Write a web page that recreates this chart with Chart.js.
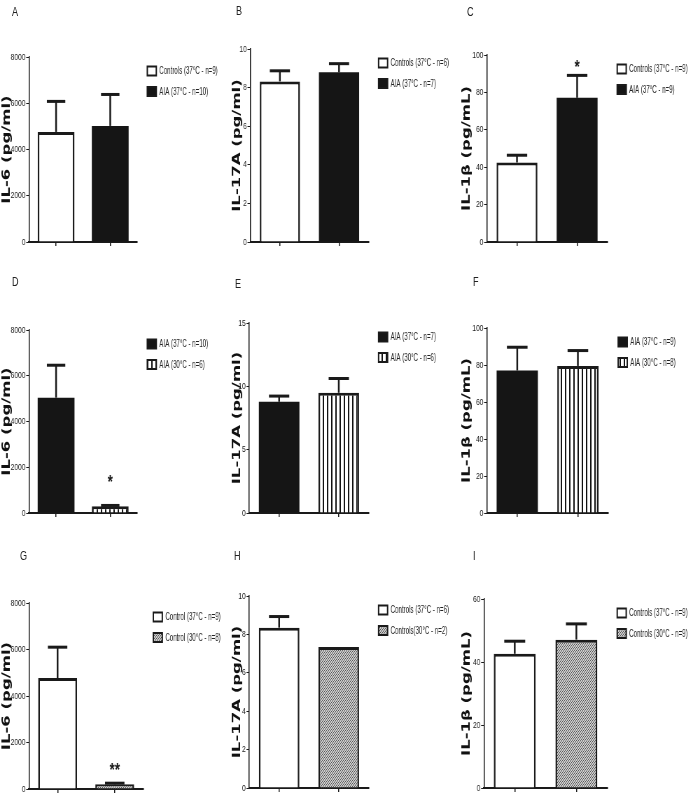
<!DOCTYPE html>
<html>
<head>
<meta charset="utf-8">
<script src="https://cdn.jsdelivr.net/npm/chart.js@4.4.1/dist/chart.umd.min.js"></script>
<style>
html, body { margin: 0; padding: 0; background: #fff; overflow: hidden; }
#wrap { position: absolute; left: 0; top: 0; width: 996px; height: 800px; transform: scaleX(0.7); transform-origin: 0 0; }
#wrap canvas { position: absolute; }
.letter { position: absolute; font: 13px "Liberation Sans", Arial, sans-serif; line-height: 14px; color: #222; }
</style>
</head>
<body>
<div id="wrap"></div>
<script>
// ---- data ----
const panelLetters = ['A', 'B', 'C', 'D', 'E', 'F', 'G', 'H', 'I'];
const yTitles = ['IL-6 (pg/ml)', 'IL-17A (pg/ml)', 'IL-1\u03B2 (pg/mL)',
                 'IL-6 (pg/ml)', 'IL-17A (pg/ml)', 'IL-1\u03B2 (pg/mL)',
                 'IL-6 (pg/ml)', 'IL-17A (pg/ml)', 'IL-1\u03B2 (pg/mL)'];
const yMax = [8000, 10, 100, 8000, 15, 100, 8000, 10, 60];
const yStep = [2000, 2, 20, 2000, 5, 20, 2000, 2, 20];
const groupLabels = [
    ['Controls (37\u00B0C - n=9)', 'AIA (37\u00B0C - n=10)'],
    ['Controls (37\u00B0C - n=6)', 'AIA (37\u00B0C - n=7)'],
    ['Controls (37\u00B0C - n=9)', 'AIA (37\u00B0C - n=9)'],
    ['AIA (37\u00B0C - n=10)', 'AIA (30\u00B0C - n=6)'],
    ['AIA (37\u00B0C - n=7)', 'AIA (30\u00B0C - n=6)'],
    ['AIA (37\u00B0C - n=9)', 'AIA (30\u00B0C - n=8)'],
    ['Control (37\u00B0C - n=9)', 'Control (30\u00B0C - n=8)'],
    ['Controls (37\u00B0C - n=6)', 'Controls(30\u00B0C - n=2)'],
    ['Controls (37\u00B0C - n=9)', 'Controls (30\u00B0C - n=9)']
];
const means = [[4760, 5020], [8.32, 8.79], [42.5, 77.1], [5040, 300], [8.78, 9.49], [77.0, 79.5], [4770, 200], [8.35, 7.35], [42.6, 47.1]];
const errors = [[1320, 1360], [0.55, 0.45], [3.9, 12.0], [1420, 30], [0.45, 1.13], [12.6, 8.3], [1330, 50], [0.58, 0], [4.0, 5.0]];
const stars = [['', ''], ['', ''], ['', '*'], ['', '*'], ['', ''], ['', ''], ['', '**'], ['', ''], ['', '']];

// ---- styles / layout ----
const SX = 0.7;            // whole figure is squeezed horizontally
const LEGEND_SQUEEZE = 0.8; // legend text is narrower still
const barStyles = [['white', 'black'], ['white', 'black'], ['white', 'black'],
                   ['black', 'stripes'], ['black', 'stripes'], ['black', 'stripes'],
                   ['white', 'dots'], ['white', 'dots'], ['white', 'dots']];
// [axis x, right end, top of scale, zero line] in page pixels
const plotBoxes = [[29, 137, 57, 242], [250, 368, 49, 242], [487, 607, 55, 242],
                   [29, 137, 330, 513], [249, 368, 323, 513], [487, 608, 328, 513],
                   [29, 143, 603, 789], [249, 368, 596, 788], [484, 607, 599, 788]];
const colLeft = [0, 230, 460];
const colRight = [230, 460, 697];
const rowTop = [0, 265, 540];
const letterPos = [[12, 12], [236, 11], [467, 12], [12, 282], [235, 284], [473, 282], [20, 556], [234, 556], [473, 556]];
const starGap = [0, 0, 13, 28, 0, 0, 18, 0, 0];
const XAXIS_H = 8;
const INK = '#1a1a1a';

function makeFill(style) {
    if (style === 'white') return '#ffffff';
    if (style === 'black') return '#151515';
    let c = document.createElement('canvas');
    let g = c.getContext('2d');
    if (style === 'stripes') {
        c.width = 6; c.height = 6;
        g.fillStyle = '#fff'; g.fillRect(0, 0, 6, 6);
        g.fillStyle = '#111'; g.fillRect(0, 0, 2, 6);
    } else {
        c.width = 3; c.height = 3;
        g.fillStyle = '#cfcfcf'; g.fillRect(0, 0, 3, 3);
        g.fillStyle = '#505050';
        g.fillRect(0, 0, 1, 1); g.fillRect(1, 2, 1, 1); g.fillRect(2, 1, 1, 1);
    }
    return g.createPattern(c, 'repeat');
}

// error bars (upper only) and significance stars
const errorBarPlugin = {
    id: 'errorBars',
    afterDatasetsDraw(chart, args, opts) {
        let ctx = chart.ctx;
        let meta = chart.getDatasetMeta(0);
        let yScale = chart.scales.y;
        ctx.save();
        ctx.strokeStyle = INK;
        ctx.fillStyle = INK;
        meta.data.forEach(function (bar, j) {
            let top = yScale.getPixelForValue(opts.means[j] + opts.errors[j]);
            if (opts.errors[j] > 0) {
                let half = bar.width * 0.25;
                ctx.lineWidth = 2.5;
                ctx.beginPath(); ctx.moveTo(bar.x, bar.y); ctx.lineTo(bar.x, top); ctx.stroke();
                ctx.lineWidth = 3;
                ctx.beginPath(); ctx.moveTo(bar.x - half, top); ctx.lineTo(bar.x + half, top); ctx.stroke();
            }
            if (opts.stars[j]) {
                ctx.font = 'bold 19px "Liberation Sans", Arial, sans-serif';
                ctx.textAlign = 'center';
                ctx.textBaseline = 'alphabetic';
                ctx.fillText(opts.stars[j], bar.x, top - opts.gap + 11);
            }
        });
        ctx.restore();
    }
};

// legend at the right of each plot
const sideLegendPlugin = {
    id: 'sideLegend',
    afterDraw(chart, args, opts) {
        let ctx = chart.ctx;
        let area = chart.chartArea;
        let ds = chart.data.datasets[0];
        ctx.save();
        opts.labels.forEach(function (label, j) {
            let bx = area.right + 10 / SX;
            let cy = area.top + 14 + j * 20.5;
            let bw = 9 / SX, bh = 9;
            ctx.fillStyle = ds.backgroundColor[j];
            ctx.fillRect(bx, cy - bh / 2, bw, bh);
            ctx.strokeStyle = INK;
            ctx.lineWidth = 2;
            ctx.strokeRect(bx, cy - bh / 2, bw, bh);

            let tx = bx + 12 / SX;
            ctx.save();
            ctx.translate(tx, cy);
            ctx.scale(LEGEND_SQUEEZE, 1);
            ctx.fillStyle = '#222';
            ctx.font = '11px "Liberation Sans", Arial, sans-serif';
            ctx.textAlign = 'left';
            ctx.textBaseline = 'middle';
            ctx.fillText(label, 0, 0);
            ctx.restore();
        });
        ctx.restore();
    }
};

let wrap = document.getElementById('wrap');

panelLetters.forEach(function (letter, i) {
    let col = i % 3, row = Math.floor(i / 3);
    let box = plotBoxes[i];

    let lab = document.createElement('div');
    lab.className = 'letter';
    lab.textContent = letter;
    lab.style.left = (letterPos[i][0] / SX) + 'px';
    lab.style.top = (letterPos[i][1] - 7) + 'px';
    wrap.appendChild(lab);

    let canvas = document.createElement('canvas');
    let w = Math.round((colRight[col] - colLeft[col]) / SX);
    let h = box[3] + XAXIS_H - rowTop[row];
    canvas.width = w; canvas.height = h;
    canvas.style.width = w + 'px'; canvas.style.height = h + 'px';
    canvas.style.left = (colLeft[col] / SX) + 'px';
    canvas.style.top = rowTop[row] + 'px';
    wrap.appendChild(canvas);

    let styles = barStyles[i];
    let borders = styles.map(function (s) {
        return s === 'black' ? 0 : { top: 3, left: 2.5, right: 2.5, bottom: 0 };
    });
    let yWidth = (box[0] - colLeft[col]) / SX;

    new Chart(canvas, {
        type: 'bar',
        data: {
            labels: groupLabels[i],
            datasets: [{
                data: means[i],
                backgroundColor: styles.map(makeFill),
                borderColor: INK,
                borderWidth: borders,
                borderSkipped: false,
                barPercentage: 0.68,
                categoryPercentage: 1.0
            }]
        },
        options: {
            responsive: false,
            animation: false,
            devicePixelRatio: 1,
            layout: {
                padding: {
                    top: box[2] - rowTop[row],
                    right: (colRight[col] - box[1]) / SX,
                    left: 0,
                    bottom: 0
                }
            },
            scales: {
                x: {
                    ticks: { callback: function () { return ''; } },
                    grid: { drawOnChartArea: false, drawTicks: true, tickLength: 4, offset: false, color: INK, lineWidth: 1.5 },
                    border: { color: INK, width: 2 },
                    afterFit: function (s) { s.height = XAXIS_H; }
                },
                y: {
                    min: 0,
                    max: yMax[i],
                    ticks: {
                        stepSize: yStep[i],
                        padding: 1,
                        color: '#1a1a1a',
                        font: { family: '"Liberation Sans", Arial, sans-serif', size: 9.5 },
                        callback: function (v) { return String(v); }
                    },
                    grid: { drawOnChartArea: false, drawTicks: true, tickLength: 4, color: INK, lineWidth: 1 },
                    border: { color: INK, width: 1.5 },
                    title: {
                        display: true,
                        text: yTitles[i],
                        color: '#111',
                        padding: { top: 0, bottom: 0 },
                        font: { family: '"DejaVu Sans", sans-serif', size: 16.5, weight: 'bold', lineHeight: 1.2 }
                    },
                    afterFit: function (s) { s.width = yWidth; }
                }
            },
            plugins: {
                legend: { display: false },
                tooltip: { enabled: false },
                errorBars: { means: means[i], errors: errors[i], stars: stars[i], gap: starGap[i] },
                sideLegend: { labels: groupLabels[i] }
            }
        },
        plugins: [errorBarPlugin, sideLegendPlugin]
    });
});
</script>
</body>
</html>
